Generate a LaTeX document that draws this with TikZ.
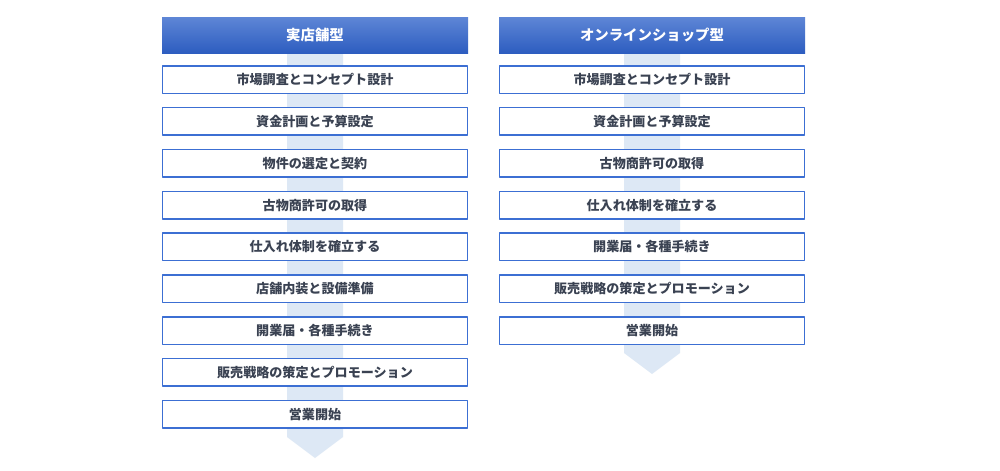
\documentclass[tikz,border=0pt]{standalone}
\usepackage{fontspec}
\newfontfamily\cjk{Noto Sans CJK JP}
\definecolor{hdtop}{HTML}{5E86D6}
\definecolor{hdbot}{HTML}{2D5DC0}
\definecolor{boxline}{HTML}{3C6FD3}
\definecolor{steptext}{HTML}{3A4252}
\definecolor{flowfill}{HTML}{DDE8F5}
\tikzset{
  headbox/.style={minimum width=229.5pt, minimum height=27pt, inner sep=0pt,
    top color=hdtop, bottom color=hdbot, text=white, font=\cjk\bfseries\fontsize{10.8}{12}\selectfont},
  stepbox/.style={draw=boxline, line width=1.1pt, fill=white, minimum width=228.4pt, minimum height=20.6pt,
    inner sep=0pt, text=steptext, font=\cjk\bfseries\fontsize{9.8}{12}\selectfont},
}
\begin{document}
\begin{tikzpicture}[x=0.75pt,y=-0.75pt, line join=round]
            \def\dy{41.85} \def\ya{79.5}
            \useasboundingbox[fill=white] (0,0) rectangle (1000,471);
            % 実店舗型
            \fill[flowfill] (287,53)--(343,53)--(343,437)--(315,458)--(287,437)--cycle;
            \node[headbox] (hdA) at (315,35) {実店舗型};
            \foreach \t [count=\i] in {市場調査とコンセプト設計,資金計画と予算設定,物件の選定と契約,古物商許可の取得,仕入れ体制を確立する,店舗内装と設備準備,開業届・各種手続き,販売戦略の策定とプロモーション,営業開始}
                \node[stepbox] (a\i) at (315,{\ya+\dy*(\i-1)}) {\t};
            % オンラインショップ型
            \fill[flowfill] (624,53)--(680,53)--(680,353)--(652,374)--(624,353)--cycle;
            \node[headbox] (hdB) at (652,35) {オンラインショップ型};
            \foreach \t [count=\i] in {市場調査とコンセプト設計,資金計画と予算設定,古物商許可の取得,仕入れ体制を確立する,開業届・各種手続き,販売戦略の策定とプロモーション,営業開始}
                \node[stepbox] (b\i) at (652,{\ya+\dy*(\i-1)}) {\t};
\end{tikzpicture}
\end{document}
